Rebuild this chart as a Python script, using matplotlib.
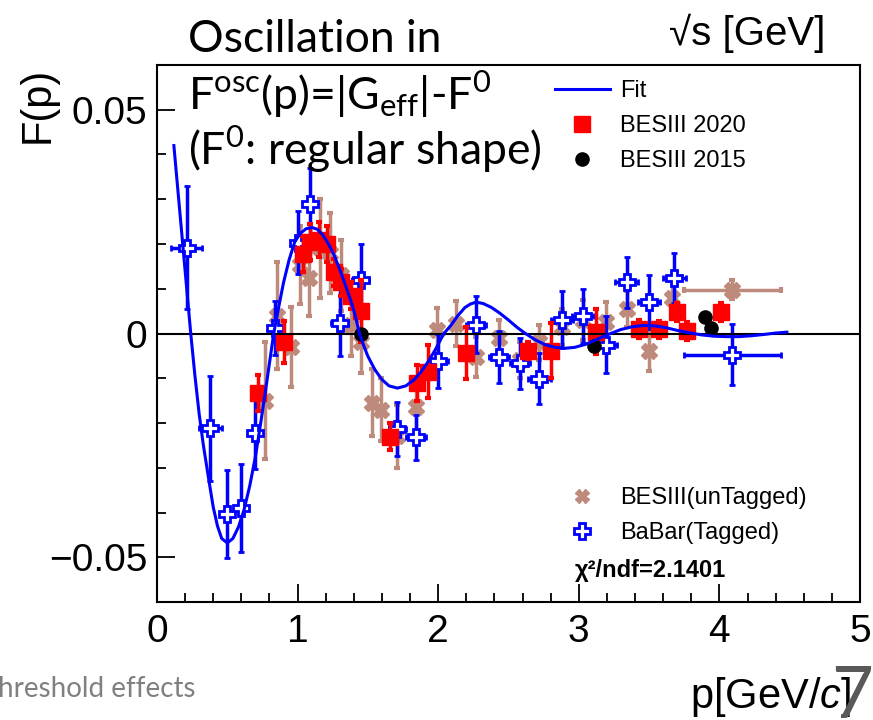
import matplotlib
matplotlib.use("Agg")
import matplotlib.pyplot as plt
from matplotlib.lines import Line2D
from matplotlib.ticker import MultipleLocator

plt.rcParams['font.family'] = ['Liberation Sans', 'DejaVu Sans']
plt.rcParams['mathtext.fontset'] = 'custom'
plt.rcParams['mathtext.rm'] = 'Liberation Sans'
plt.rcParams['mathtext.it'] = 'Liberation Sans:italic'

# --- data ---
fit_p = [0.12, 0.15, 0.18, 0.21, 0.24, 0.27, 0.30, 0.33, 0.37, 0.40, 0.43, 0.46, 0.50, 0.54,
         0.58, 0.62, 0.66, 0.70, 0.74, 0.78, 0.83, 0.86, 0.90, 0.94, 0.98, 1.02, 1.06, 1.10,
         1.14, 1.18, 1.22, 1.26, 1.30, 1.34, 1.38, 1.41, 1.44, 1.47, 1.50, 1.55, 1.60, 1.65,
         1.71, 1.77, 1.83, 1.88, 1.93, 1.98, 2.04, 2.09, 2.14, 2.19, 2.23, 2.27, 2.32, 2.38,
         2.44, 2.50, 2.56, 2.62, 2.69, 2.76, 2.83, 2.90, 2.97, 3.05, 3.13, 3.21, 3.30, 3.38,
         3.46, 3.54, 3.62, 3.70, 3.78, 3.87, 3.96, 4.05, 4.14, 4.23, 4.32, 4.40, 4.48]
fit_F = [0.0420, 0.0315, 0.0210, 0.0105, 0.0000, -0.0095, -0.0180, -0.0250, -0.0330, -0.0388,
         -0.0430, -0.0458, -0.0468, -0.0458, -0.0432, -0.0393, -0.0340, -0.0275, -0.0195,
         -0.0110, 0.0000, 0.0050, 0.0114, 0.0165, 0.0205, 0.0224, 0.0234, 0.0237, 0.0233,
         0.0220, 0.0200, 0.0175, 0.0143, 0.0108, 0.0072, 0.0040, 0.0000, -0.0027, -0.0051,
         -0.0081, -0.0103, -0.0117, -0.0122, -0.0117, -0.0103, -0.0085, -0.0062, -0.0036,
         0.0000, 0.0018, 0.0040, 0.0058, 0.0066, 0.0070, 0.0067, 0.0058, 0.0045, 0.0030,
         0.0014, 0.0000, -0.0014, -0.0025, -0.0031, -0.0033, -0.0031, -0.0024, -0.0013,
         -0.0002, 0.0009, 0.0015, 0.0018, 0.0017, 0.0013, 0.0007, 0.0002, -0.0003, -0.0006,
         -0.0007, -0.0007, -0.0005, -0.0002, 0.0001, 0.0003]

# BESIII(unTagged)
unt_p = [0.77, 0.85, 0.95, 1.02, 1.08, 1.16, 1.23, 1.31, 1.38, 1.45, 1.53, 1.59, 1.71, 1.84,
         1.99, 2.13, 2.27, 2.43, 2.58, 2.72, 2.88, 3.03, 3.19, 3.34, 3.50, 3.66, 4.09]
unt_F = [-0.0150, 0.0040, -0.0030, 0.0153, 0.0125, 0.0190, 0.0180, 0.0130, 0.0020, -0.0020,
         -0.0155, -0.0170, -0.0230, -0.0165, 0.0008, 0.0022, -0.0053, -0.0010, -0.0060,
         -0.0020, 0.0015, 0.0030, 0.0025, 0.0055, -0.0038, 0.0080, 0.0098]
unt_dF = [0.0130, 0.0120, 0.0090, 0.0088, 0.0085, 0.0110, 0.0090, 0.0080, 0.0070, 0.0068,
          0.0075, 0.0070, 0.0070, 0.0055, 0.0050, 0.0050, 0.0045, 0.0040, 0.0040, 0.0040,
          0.0040, 0.0045, 0.0045, 0.0040, 0.0045, 0.0040, 0.0022]
unt_dp = [0.0] * 26 + [0.345]

# BaBar(Tagged)
babar_p = [0.21, 0.38, 0.50, 0.60, 0.70, 0.84, 1.00, 1.09, 1.30, 1.45, 1.71, 1.84, 2.00, 2.27,
           2.43, 2.58, 2.72, 2.88, 3.03, 3.19, 3.34, 3.50, 3.68, 4.09]
babar_F = [0.0192, -0.0212, -0.0404, -0.0390, -0.0223, 0.0013, 0.0203, 0.0290, 0.0024, 0.0120,
           -0.0214, -0.0232, -0.0061, 0.0020, -0.0052, -0.0067, -0.0101, 0.0031, 0.0039,
           -0.0025, 0.0114, 0.0070, 0.0124, -0.0047]
babar_dF = [0.0137, 0.0117, 0.0098, 0.0099, 0.0080, 0.0060, 0.0070, 0.0080, 0.0075, 0.0080,
            0.0060, 0.0050, 0.0060, 0.0063, 0.0058, 0.0058, 0.0057, 0.0064, 0.0060, 0.0063,
            0.0058, 0.0060, 0.0056, 0.0069]
babar_dp = [0.11, 0.08, 0.03, 0.03, 0.03, 0.05, 0.05, 0.05, 0.06, 0.06, 0.06, 0.07, 0.07, 0.07,
            0.07, 0.07, 0.08, 0.08, 0.08, 0.08, 0.08, 0.08, 0.08, 0.345]

# BESIII 2020
red_p = [0.72, 0.90, 1.04, 1.09, 1.15, 1.21, 1.26, 1.31, 1.38, 1.45, 1.66, 1.85, 1.93, 2.20,
         2.64, 2.80, 3.12, 3.43, 3.57, 3.70, 3.77, 4.01]
red_F = [-0.0133, -0.0018, 0.0177, 0.0204, 0.0210, 0.0200, 0.0137, 0.0114, 0.0084, 0.0050,
         -0.0231, -0.0110, -0.0085, -0.0043, -0.0038, -0.0038, 0.0004, 0.0011, 0.0009, 0.0048,
         0.0005, 0.0048]
red_dF = [0.0041, 0.0047, 0.0040, 0.0040, 0.0040, 0.0040, 0.0030, 0.0030, 0.0030, 0.0070,
          0.0030, 0.0040, 0.0060, 0.0058, 0.0020, 0.0062, 0.0050, 0.0020, 0.0020, 0.0020,
          0.0020, 0.0020]

# BESIII 2015
bes15_p = [1.45, 3.11, 3.90, 3.94]
bes15_F = [0.0000, -0.0027, 0.0036, 0.0013]

brown = '#be8a7c'

fig = plt.figure(figsize=(8.73, 7.2), dpi=100)
ax = fig.add_axes([157 / 873, 1 - 602 / 720, 703 / 873, 537 / 720])

ax.errorbar(unt_p, unt_F, yerr=unt_dF, xerr=unt_dp, fmt='X', ms=12, color=brown,
            mec=brown, elinewidth=2.5, capsize=2.5, capthick=3, zorder=2)
ax.errorbar(babar_p, babar_F, yerr=babar_dF, xerr=babar_dp, fmt='P', ms=12, mfc='white',
            mec='#0000ff', mew=2, color='#0000ff', elinewidth=2.5, capsize=2.5, capthick=3,
            zorder=3)
ax.errorbar(red_p, red_F, yerr=red_dF, fmt='s', ms=11.5, color='#ff0000', elinewidth=2.5,
            capsize=2.5, capthick=3, zorder=4)
ax.plot(bes15_p, bes15_F, 'o', ms=9.5, color='black', zorder=5)
ax.axhline(0, color='black', lw=1.5, zorder=4.5)
ax.plot(fit_p, fit_F, color='#0000ff', lw=2.2, zorder=6)

ax.set_xlim(0, 5)
ax.set_ylim(-0.06, 0.06)
ax.xaxis.set_minor_locator(MultipleLocator(0.2))
ax.yaxis.set_minor_locator(MultipleLocator(0.01))
ax.set_yticks([-0.05, 0, 0.05])
ax.set_yticklabels(['\u22120.05', '0', '0.05'])
ax.set_xticks([0, 1, 2, 3, 4, 5])
ax.set_xticklabels(['0', '1', '2', '3', '4', '5'])
ax.tick_params(which='both', direction='in', top=False, right=False, width=1.3,
               labelsize=28)
ax.tick_params(which='major', length=13)
ax.tick_params(which='minor', length=6.5)
ax.tick_params(axis='x', pad=9)
ax.tick_params(axis='y', pad=7)
for s in ax.spines.values():
    s.set_linewidth(1.5)

# legends
h_fit = Line2D([], [], color='#0000ff', lw=2.2)
h_red = Line2D([], [], marker='s', ls='none', ms=12, color='#ff0000')
h_blk = Line2D([], [], marker='o', ls='none', ms=9.5, color='black')
leg1 = ax.legend([h_fit, h_red, h_blk], ['Fit', 'BESIII 2020', 'BESIII 2015'],
                 loc='upper left', bbox_to_anchor=(0.566, 0.972), frameon=False,
                 fontsize=17, handlelength=2.33, handletextpad=0.42, labelspacing=0.55,
                 borderpad=0, borderaxespad=0)
ax.add_artist(leg1)
h_unt = Line2D([], [], marker='X', ls='none', ms=10, color=brown)
h_bab = Line2D([], [], marker='P', ls='none', ms=11, mfc='white', mec='#0000ff', mew=2)
ax.legend([h_unt, h_bab], ['BESIII(unTagged)', 'BaBar(Tagged)'], loc='upper left',
          bbox_to_anchor=(0.566, 0.214), frameon=False, fontsize=17, handlelength=2.33,
          handletextpad=0.42, labelspacing=0.55, borderpad=0, borderaxespad=0)
ax.text(0.595, 0.058, '\u03c7\u00b2/ndf=2.1401', transform=ax.transAxes, fontsize=17,
        fontweight='bold', va='center', ha='left')

# axis titles
fig.text(38 / 873, 1 - 105 / 720, 'F(p)', rotation=90, fontsize=30, ha='center', va='center')
fig.text(771 / 873, 1 - 697 / 720, 'p[GeV/$c$]', fontsize=30, ha='center', va='center')
fig.text(747 / 873, 1 - 33 / 720, '\u221as [GeV]', fontsize=29, ha='center', va='center')

# slide overlay text
slide = ['Lato', 'DejaVu Sans']
fig.text(188 / 873, 1 - 52 / 720, 'Oscillation in', fontsize=32, family=slide,
         ha='left', va='baseline')
fig.text(188 / 873, 1 - 110 / 720,
         r'F$^{\mathregular{osc}}$(p)=|G$_{\mathregular{eff}}$|-F$^{\mathregular{0}}$',
         fontsize=32, family=slide, ha='left', va='baseline')
fig.text(188 / 873, 1 - 165 / 720, r'(F$^{\mathregular{0}}$: regular shape)', fontsize=32,
         family=slide, ha='left', va='baseline')
fig.text(-2 / 873, 1 - 697 / 720, 'hreshold effects', fontsize=20, family=slide,
         color='#808080', ha='left', va='baseline')
fig.text(852 / 873, -10 / 720, '7', fontsize=52, family=slide, color='#595959',
         ha='center', va='bottom')

fig.savefig('out.png', dpi=100)
